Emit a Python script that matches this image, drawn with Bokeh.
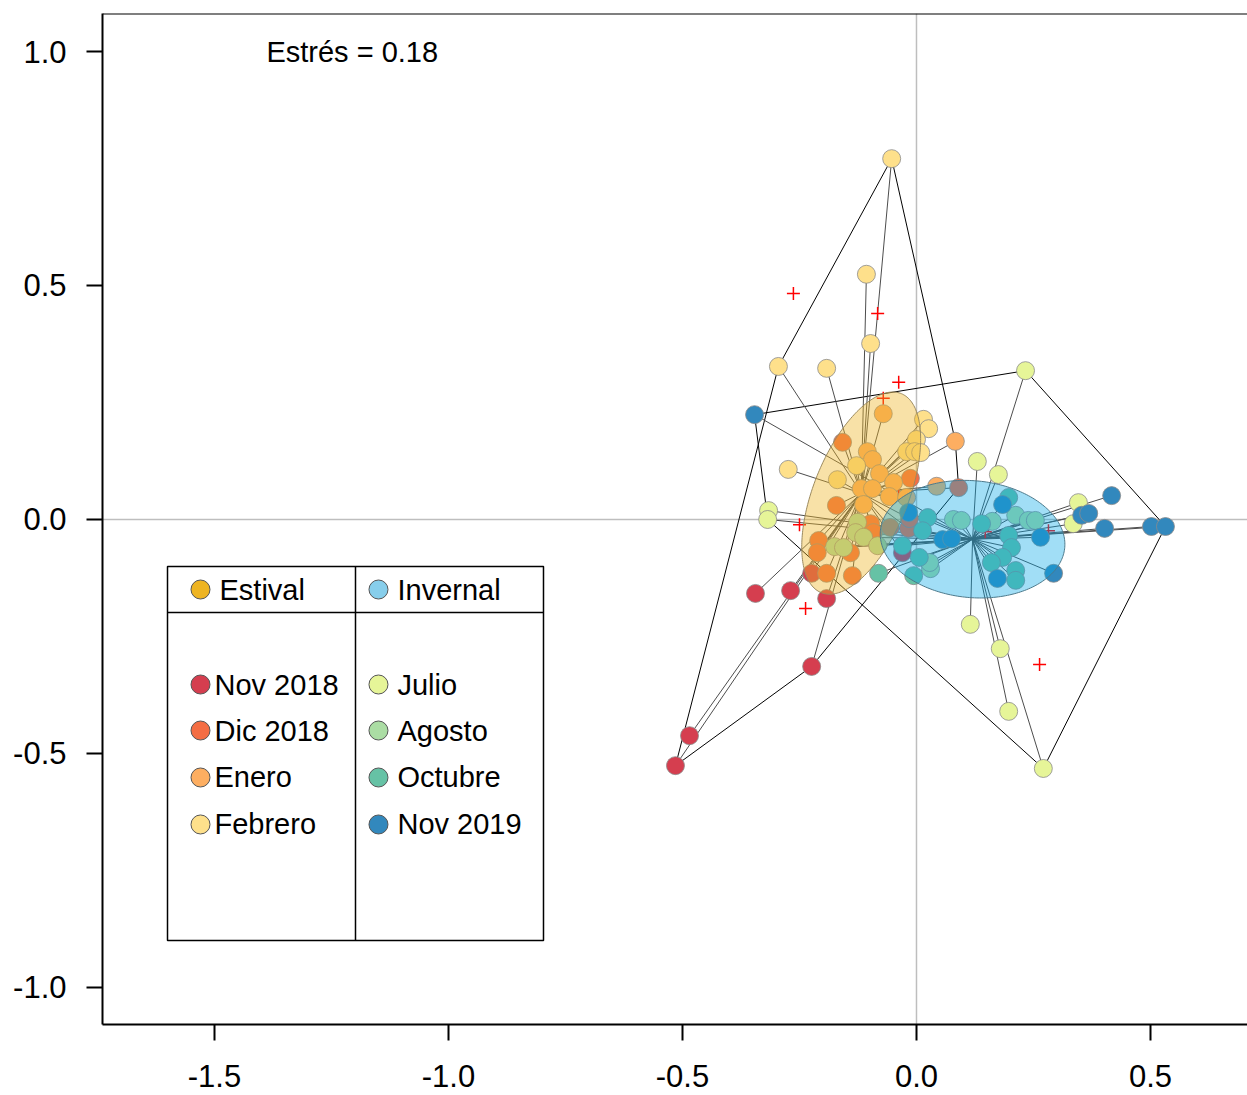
import numpy as np
from bokeh.plotting import figure
from bokeh.models import Span, Label, FixedTicker, PrintfTickFormatter, Range1d
from bokeh.core.properties import value
from bokeh.embed import file_html
from bokeh.resources import INLINE

# ---------------- data ----------------
months = ["Nov 2018", "Dic 2018", "Enero", "Febrero", "Julio", "Agosto", "Octubre", "Nov 2019"]
month_colors = ["#D53E4F", "#F46D43", "#FDAE61", "#FEE08B", "#E6F598", "#ABDDA4", "#66C2A5", "#3288BD"]
month_season = ["Estival", "Estival", "Estival", "Estival", "Invernal", "Invernal", "Invernal", "Invernal"]
seasons = ["Estival", "Invernal"]
season_colors = ["#EEB422", "#87CEEB"]
stress = 0.18

nov2018_x = [-0.515, -0.485, -0.224, -0.344, -0.269, -0.192, -0.224, -0.030]
nov2018_y = [-0.526, -0.462, -0.314, -0.158, -0.152, -0.169, -0.115, -0.071]
dic2018_x = [-0.158, -0.013, 0.090, -0.192, -0.171, -0.209, -0.212, -0.141, -0.137, -0.098, -0.092, -0.017, -0.015, -0.056]
dic2018_y = [0.165, 0.088, 0.068, -0.115, 0.030, -0.045, -0.071, -0.071, -0.120, -0.009, -0.028, -0.019, 0.002, -0.017]
enero_x = [0.083, -0.071, -0.105, -0.094, -0.079, -0.049, -0.118, -0.094, -0.058, -0.113, -0.021, 0.043]
enero_y = [0.167, 0.226, 0.145, 0.128, 0.098, 0.079, 0.066, 0.066, 0.049, 0.032, 0.047, 0.071]
febrero_x = [-0.053, -0.107, -0.098, -0.295, -0.192, -0.274, 0.015, 0.026, 0.000, -0.021, -0.004, 0.009, -0.128, -0.169]
febrero_y = [0.771, 0.524, 0.376, 0.327, 0.323, 0.107, 0.214, 0.194, 0.171, 0.145, 0.145, 0.143, 0.115, 0.085]
julio_x = [0.233, 0.130, 0.175, -0.316, -0.318, 0.346, 0.335, 0.115, 0.179, 0.197, 0.271]
julio_y = [0.318, 0.124, 0.096, 0.019, 0.000, 0.036, -0.009, -0.224, -0.276, -0.410, -0.532]
agosto_x = [-0.126, -0.130, -0.113, -0.175, -0.156, -0.083, 0.079, 0.096, 0.030, 0.028, 0.162, 0.212, 0.239, 0.254]
agosto_y = [-0.006, -0.028, -0.038, -0.058, -0.060, -0.056, 0.000, -0.002, -0.105, -0.092, -0.004, 0.009, -0.002, -0.002]
octubre_x = [-0.081, -0.006, 0.024, 0.013, -0.030, 0.006, 0.197, 0.197, 0.203, 0.184, 0.160, 0.212, 0.212, 0.139]
octubre_y = [-0.115, -0.120, 0.004, -0.024, -0.056, -0.081, 0.047, -0.034, -0.060, -0.081, -0.092, -0.109, -0.130, -0.009]
nov2019_x = [-0.346, 0.417, 0.353, 0.368, 0.402, 0.502, 0.532, 0.293, 0.265, 0.184, 0.173, 0.056, 0.075, -0.017]
nov2019_y = [0.224, 0.051, 0.009, 0.013, -0.019, -0.015, -0.015, -0.115, -0.038, 0.032, -0.126, -0.043, -0.041, 0.015]
species_x = [-0.263, -0.083, -0.038, -0.071, -0.250, -0.237, 0.263, 0.147, 0.282, -0.038]
species_y = [0.483, 0.440, 0.293, 0.259, -0.011, -0.190, -0.310, -0.026, -0.024, 0.051]

x_ticks = [-1.5, -1.0, -0.5, 0.0, 0.5]
y_ticks = [-1.0, -0.5, 0.0, 0.5, 1.0]

month_x = [nov2018_x, dic2018_x, enero_x, febrero_x, julio_x, agosto_x, octubre_x, nov2019_x]
month_y = [nov2018_y, dic2018_y, enero_y, febrero_y, julio_y, agosto_y, octubre_y, nov2019_y]

# ---------------- helpers ----------------
def convex_hull(xs, ys):
    pts = sorted(set(zip(xs, ys)))
    def cross(o, a, b):
        return (a[0]-o[0])*(b[1]-o[1]) - (a[1]-o[1])*(b[0]-o[0])
    lower, upper = [], []
    for pt in pts:
        while len(lower) >= 2 and cross(lower[-2], lower[-1], pt) <= 0:
            lower.pop()
        lower.append(pt)
    for pt in reversed(pts):
        while len(upper) >= 2 and cross(upper[-2], upper[-1], pt) <= 0:
            upper.pop()
        upper.append(pt)
    hull = lower[:-1] + upper[:-1]
    return [h[0] for h in hull], [h[1] for h in hull]

def sd_ellipse(xs, ys, n=240):
    pts = np.column_stack([xs, ys])
    c = pts.mean(axis=0)
    cov = np.cov(pts.T)
    vals, vecs = np.linalg.eigh(cov)
    t = np.linspace(0, 2*np.pi, n)
    circ = np.column_stack([np.cos(t), np.sin(t)])
    e = c + (circ * np.sqrt(vals)) @ vecs.T
    return e[:, 0], e[:, 1]

# ---------------- figure ----------------
x_lo, x_hi = -1.7393, 0.7073
y_lo, y_hi = -1.0791, 1.0812
p = figure(width=1247, height=1095, output_backend="svg", toolbar_location=None,
           x_range=Range1d(x_lo, x_hi), y_range=Range1d(y_lo, y_hi),
           min_border_left=102, min_border_right=0, min_border_top=13, min_border_bottom=71)
p.xgrid.visible = False
p.ygrid.visible = False
p.outline_line_color = None

for ax in (p.xaxis[0], p.yaxis[0]):
    ax.axis_line_width = 2
    ax.axis_line_color = "black"
    ax.major_tick_line_width = 2
    ax.major_tick_line_color = "black"
    ax.major_tick_out = 16
    ax.major_tick_in = 0
    ax.minor_tick_line_color = None
    ax.major_label_text_font = "Liberation Sans"
    ax.major_label_text_font_size = "31px"
    ax.major_label_text_color = "black"
    ax.formatter = PrintfTickFormatter(format="%.1f")
p.xaxis.major_label_standoff = 24
p.yaxis.major_label_standoff = 20
p.xaxis.ticker = FixedTicker(ticks=x_ticks)
p.yaxis.ticker = FixedTicker(ticks=y_ticks)

p.add_layout(Span(location=y_hi, dimension="width", line_color="black", line_width=2))
p.add_layout(Span(location=0, dimension="width", line_color="#BEBEBE", line_width=1.5, level="underlay"))
p.add_layout(Span(location=0, dimension="height", line_color="#BEBEBE", line_width=1.5, level="underlay"))

# group points by season
season_pts = {}
for s in seasons:
    xs, ys = [], []
    for mx, my, ms in zip(month_x, month_y, month_season):
        if ms == s:
            xs += mx
            ys += my
    season_pts[s] = (xs, ys)

# hulls
for s in seasons:
    hx, hy = convex_hull(*season_pts[s])
    p.patch(hx, hy, fill_color=None, line_color="black", line_width=1)

# spiders
for s in seasons:
    xs, ys = season_pts[s]
    cx, cy = float(np.mean(xs)), float(np.mean(ys))
    p.segment(x0=[cx]*len(xs), y0=[cy]*len(ys), x1=xs, y1=ys, line_color="#4D4D4D", line_width=1)

# species
p.scatter(species_x, species_y, marker="cross", size=13, line_color="#FF0000", line_width=1.5)

# sites
for mx, my, col in zip(month_x, month_y, month_colors):
    p.scatter(mx, my, marker="circle", size=18, fill_color=col, line_color="#8A8A8A", line_width=0.8)

# ellipses
ell_style = {"Estival": ("#EEB422", 0.4, "#9C8A5E"), "Invernal": ("#00A5E6", 0.37, "#4D7A8C")}
for s in seasons:
    ex, ey = sd_ellipse(*season_pts[s])
    fc, fa, lc = ell_style[s]
    p.patch(ex, ey, fill_color=fc, fill_alpha=fa, line_color=lc, line_width=1)

# ---------------- legend (table style) ----------------
leg_left, leg_mid, leg_right = -1.6004, -1.1987, -0.7970
leg_top, leg_head, leg_bottom = -0.1004, -0.1987, -0.8996
p.quad(left=leg_left, right=leg_right, top=leg_top, bottom=leg_bottom,
       fill_color="white", line_color="black", line_width=1.5)
p.segment(x0=[leg_mid, leg_left], y0=[leg_top, leg_head], x1=[leg_mid, leg_right], y1=[leg_bottom, leg_head],
          line_color="black", line_width=1.5)
dot_x = [-1.5299, -1.1496]
txt_x_head = [-1.4893, -1.1090]
txt_x_rows = [-1.5000, -1.1090]
head_y = -0.1496
row_y = [-0.3526, -0.4509, -0.5513, -0.6517]
font = value("Liberation Sans")
fsize = value("29px")

p.scatter(dot_x, [head_y, head_y], marker="circle", size=19, fill_color=season_colors,
          line_color="#555555", line_width=1)
p.text(txt_x_head, [head_y, head_y], text=seasons, text_font=font, text_font_size=fsize,
       text_baseline="middle", text_align="left", text_color="black")
for col_i in range(2):
    names = months[col_i*4:(col_i+1)*4]
    cols = month_colors[col_i*4:(col_i+1)*4]
    p.scatter([dot_x[col_i]]*4, row_y, marker="circle", size=19, fill_color=cols,
              line_color="#555555", line_width=1)
    p.text([txt_x_rows[col_i]]*4, row_y, text=names, text_font=font, text_font_size=fsize,
           text_baseline="middle", text_align="left", text_color="black")

p.add_layout(Label(x=-1.389, y=1.0, text=f"Estrés = {stress:.2f}", text_font="Liberation Sans",
                   text_font_size="29px", text_baseline="middle", text_align="left", text_color="black"))

open("out.html", "w").write(file_html(p, INLINE))
